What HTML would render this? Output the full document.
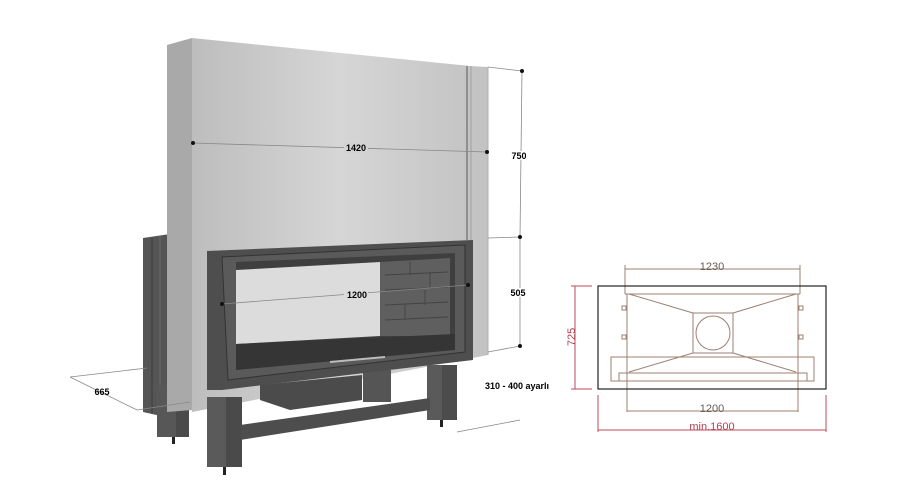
<!DOCTYPE html>
<html><head><style>
html,body{margin:0;padding:0;background:#fff;width:899px;height:500px;overflow:hidden}
text{font-family:"Liberation Sans",sans-serif}
</style></head><body>
<svg width="899" height="500" viewBox="0 0 899 500" xmlns="http://www.w3.org/2000/svg">
<defs>
<linearGradient id="steel" x1="0" x2="1" y1="0" y2="0">
<stop offset="0" stop-color="#bdbdbd"/><stop offset="0.5" stop-color="#d6d6d6"/><stop offset="1" stop-color="#c2c2c2"/>
</linearGradient>
</defs>
<!-- left side dark panel of insert -->
<polygon points="143,238 170,234 170,418 143,412" fill="#555"/>
<line x1="152" y1="238" x2="152" y2="414" stroke="#3a3a3a"/>
<line x1="160" y1="236" x2="160" y2="416" stroke="#6a6a6a"/>
<!-- back left leg -->
<rect x="157" y="385" width="32" height="52" fill="#575757"/>
<rect x="176" y="385" width="13" height="52" fill="#4a4a4a"/>
<rect x="172" y="437" width="3" height="7" fill="#222"/>
<!-- hood side -->
<polygon points="167,45 192,38 192,410 167,412" fill="#a9a9a9"/>
<!-- hood front / light panel -->
<polygon points="192,38 470,66 488,67 488,355 192,412" fill="url(#steel)"/>
<line x1="467" y1="66" x2="467" y2="240" stroke="#8e8e8e" stroke-width="2"/>
<line x1="471" y1="66" x2="471" y2="240" stroke="#a0a0a0"/>
<line x1="488" y1="67" x2="488" y2="355" stroke="#b0b0b0"/>
<!-- back right leg -->
<rect x="363" y="370" width="28" height="32" fill="#555"/>
<!-- box under -->
<polygon points="260,385 362,375 362,400 290,410 260,400" fill="#4b4b4b"/>
<!-- firebox frame -->
<polygon points="207,251 473,240 473,360 222,390 207,390" fill="#4e4e4e"/>
<polygon points="222,257 465,245 465,352 228,380" fill="#5a5a5a" stroke="#333"/>
<polygon points="236,262 455,253 455,340 236,370" fill="#3f3f3f"/>
<!-- glass -->
<polygon points="236,270 380,262 380,336 236,344" fill="#dcdcdc"/>
<!-- brick area -->
<polygon points="380,262 450,258 450,336 380,336" fill="#5f5f5f"/>
<g stroke="#444" stroke-width="1">
<line x1="385" y1="275" x2="448" y2="272"/><line x1="385" y1="290" x2="448" y2="287"/>
<line x1="385" y1="305" x2="448" y2="302"/><line x1="385" y1="320" x2="448" y2="317"/>
<line x1="410" y1="262" x2="410" y2="275"/><line x1="425" y1="290" x2="425" y2="305"/>
<line x1="405" y1="305" x2="405" y2="320"/><line x1="430" y1="272" x2="430" y2="287"/>
</g>
<!-- hearth -->
<polygon points="236,344 455,334 455,350 236,370" fill="#353535"/>
<line x1="330" y1="362" x2="385" y2="357" stroke="#bbb" stroke-width="2"/>
<!-- right front leg -->
<rect x="427" y="365" width="30" height="55" fill="#5a5a5a"/>
<rect x="442" y="365" width="15" height="55" fill="#4c4c4c"/>
<rect x="440" y="420" width="3" height="7" fill="#222"/>
<!-- crossbar -->
<polygon points="240,425 430,398 430,410 240,440" fill="#4d4d4d"/>
<!-- front left leg -->
<rect x="207" y="397" width="35" height="70" fill="#5a5a5a"/>
<rect x="226" y="397" width="16" height="70" fill="#4a4a4a"/>
<rect x="223" y="467" width="3" height="8" fill="#222"/>

<!-- dimension lines -->
<g stroke="#888" stroke-width="0.8" fill="none">
<line x1="192" y1="143" x2="487" y2="152"/>
<line x1="222" y1="304" x2="468" y2="285"/>
<line x1="488" y1="67" x2="522" y2="71"/>
<line x1="488" y1="238" x2="520" y2="237"/>
<line x1="488" y1="352" x2="520" y2="346"/>
<line x1="522" y1="71" x2="520" y2="237"/>
<line x1="520" y1="237" x2="520" y2="346"/>
<line x1="457" y1="432" x2="520" y2="420"/>
<line x1="70" y1="377" x2="147" y2="368"/>
<line x1="70" y1="377" x2="137" y2="410"/>
<line x1="137" y1="410" x2="190" y2="402"/>
</g>
<g fill="#111">
<circle cx="193" cy="143" r="2"/><circle cx="487" cy="152" r="2"/>
<circle cx="222" cy="304" r="2"/><circle cx="468" cy="285" r="2"/>
<circle cx="522" cy="71" r="2"/><circle cx="520" cy="237" r="2"/><circle cx="520" cy="346" r="2"/>
</g>
<rect x="344" y="142" width="24" height="11" fill="#d2d2d2"/>
<text x="356" y="151" font-size="9" font-weight="bold" text-anchor="middle">1420</text>
<rect x="344" y="289" width="24" height="11" fill="#dcdcdc"/>
<text x="357" y="298" font-size="9" font-weight="bold" text-anchor="middle">1200</text>
<text x="519" y="159" font-size="9" font-weight="bold" text-anchor="middle" stroke="#fff" stroke-width="3" paint-order="stroke">750</text>
<text x="518" y="296" font-size="9" font-weight="bold" text-anchor="middle" stroke="#fff" stroke-width="3" paint-order="stroke">505</text>
<text x="485" y="389" font-size="9" font-weight="bold">310 - 400 ayarlı</text>
<text x="102" y="395" font-size="9" font-weight="bold" text-anchor="middle">665</text>

<!-- right plan diagram -->
<g fill="none" stroke="#9c8070" stroke-width="1">
<line x1="625" y1="269" x2="800" y2="269"/>
<line x1="625" y1="265" x2="625" y2="294"/><line x1="800" y1="265" x2="800" y2="294"/>
<line x1="625" y1="294" x2="800" y2="294"/>
<line x1="627" y1="294" x2="627" y2="412"/><line x1="798" y1="294" x2="798" y2="412"/>
<line x1="627" y1="411" x2="798" y2="411"/>
<line x1="629" y1="294" x2="693" y2="313"/><line x1="796" y1="294" x2="733" y2="313"/>
<line x1="629" y1="372" x2="693" y2="353"/><line x1="796" y1="372" x2="733" y2="353"/>
<rect x="693" y="313" width="40" height="40"/>
<circle cx="713" cy="333" r="17"/>
<rect x="611" y="357" width="203" height="24"/>
<rect x="619" y="373" width="188" height="8"/>
<rect x="622" y="306" width="4" height="4"/><rect x="622" y="335" width="4" height="4"/>
<rect x="799" y="306" width="4" height="4"/><rect x="799" y="335" width="4" height="4"/>
</g>
<rect x="598" y="286" width="228" height="103" fill="none" stroke="#222" stroke-width="1.2"/>
<g stroke="#c0485a" stroke-width="1" fill="none">
<line x1="575" y1="286" x2="575" y2="389"/>
<line x1="571" y1="286" x2="592" y2="286"/><line x1="571" y1="389" x2="592" y2="389"/>
<line x1="598" y1="395" x2="598" y2="432"/><line x1="826" y1="395" x2="826" y2="432"/>
<line x1="598" y1="430" x2="826" y2="430"/>
</g>
<text x="712" y="270" font-size="11" fill="#6a5a50" text-anchor="middle">1230</text>
<text x="712" y="412" font-size="11" fill="#6a5a50" text-anchor="middle">1200</text>
<text x="712" y="430" font-size="11" fill="#b04050" text-anchor="middle">min.1600</text>
<text transform="translate(575,337) rotate(-90)" font-size="11" fill="#b04050" text-anchor="middle">725</text>
</svg>
</body></html>
